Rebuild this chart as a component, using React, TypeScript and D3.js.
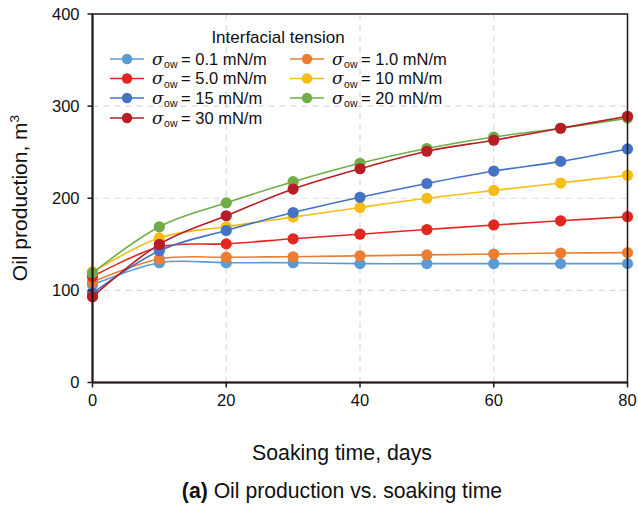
import React from "react";
import * as d3 from "d3";

// Soaking time (days) and oil production (m³) for each interfacial tension case
const days = [0, 10, 20, 30, 40, 50, 60, 70, 80];
const ift01 = [106, 130, 130, 130, 129, 129, 129, 129, 129];
const ift1 = [109, 134, 136, 136.5, 137.5, 138.5, 139.5, 140.5, 141];
const ift5 = [115, 147, 150.5, 156, 161, 166, 171, 175.5, 180];
const ift10 = [120, 157, 169, 179.5, 190, 200, 208.5, 216.5, 225];
const ift15 = [97, 143, 165, 184.5, 201, 216, 229.5, 240, 253.5];
const ift20 = [119, 169, 195, 218, 238, 254, 266.5, 276, 287];
const ift30 = [93, 150, 181, 210, 232, 251, 263, 276, 289];

const seriesLabels = ["0.1 mN/m", "1.0 mN/m", "5.0 mN/m", "10 mN/m", "15 mN/m", "20 mN/m", "30 mN/m"];
const seriesValues = [ift01, ift1, ift5, ift10, ift15, ift20, ift30];
const seriesColors = ["#5B9BD5", "#ED7D31", "#E3261F", "#F6BD16", "#4472C4", "#70AD47", "#B81D25"];

const xTicks = [0, 20, 40, 60, 80];
const yTicks = [0, 100, 200, 300, 400];
const xGrid = [20, 40, 60];
const yGrid = [100, 200, 300];

const W = 638;
const H = 505;
const left = 92.5;
const right = 627.5;
const top = 14;
const bottom = 382.5;
const axisColor = "#231815";
const font = "'Liberation Sans', Arial, sans-serif";

export default function App() {
  const x = d3.scaleLinear().domain([0, 80]).range([left, right]);
  const y = d3.scaleLinear().domain([0, 400]).range([bottom, top]);
  const line = d3
    .line<number>()
    .x((_, i) => x(days[i]))
    .y((v) => y(v))
    .curve(d3.curveCardinal.tension(0));

  // legend layout: two columns, filled row by row
  const legendRows = [59, 78.5, 98, 118];
  const legendCols = [110, 290];

  return (
    <svg
      width={W}
      height={H}
      style={{ position: "absolute", left: 0, top: 0, background: "#fff", fontFamily: font }}
    >
      {/* grid */}
      {yGrid.map((v) => (
        <line key={"gy" + v} x1={left} x2={right} y1={y(v)} y2={y(v)} stroke="#d9d9d9" strokeWidth={1.2} strokeDasharray="6 5" />
      ))}
      {xGrid.map((v) => (
        <line key={"gx" + v} x1={x(v)} x2={x(v)} y1={top} y2={bottom} stroke="#d9d9d9" strokeWidth={1.2} strokeDasharray="6 5" />
      ))}

      {/* series */}
      {seriesValues.map((vals, si) => (
        <g key={"s" + si}>
          <path d={line(vals) || ""} fill="none" stroke={seriesColors[si]} strokeWidth={1.6} />
          {vals.map((v, i) => (
            <circle key={i} cx={x(days[i])} cy={y(v)} r={5.6} fill={seriesColors[si]} />
          ))}
        </g>
      ))}

      {/* frame */}
      <rect x={left} y={top} width={right - left} height={bottom - top} fill="none" stroke={axisColor} strokeWidth={1.5} />
      <line x1={left} x2={left} y1={top} y2={bottom} stroke={axisColor} strokeWidth={2} />
      <line x1={left} x2={right} y1={bottom} y2={bottom} stroke={axisColor} strokeWidth={2} />

      {/* y axis */}
      {yTicks.map((v) => (
        <g key={"yt" + v}>
          <line x1={left - 5} x2={left} y1={y(v)} y2={y(v)} stroke={axisColor} strokeWidth={1.5} />
          <text x={left - 13} y={y(v)} dy="0.35em" textAnchor="end" fontSize={16.5} fill="#111">
            {v}
          </text>
        </g>
      ))}

      {/* x axis */}
      {xTicks.map((v) => (
        <g key={"xt" + v}>
          <line x1={x(v)} x2={x(v)} y1={bottom} y2={bottom + 5} stroke={axisColor} strokeWidth={1.5} />
          <text x={x(v)} y={bottom + 23} textAnchor="middle" fontSize={16.5} fill="#111">
            {v}
          </text>
        </g>
      ))}

      {/* axis titles */}
      <text x={342} y={460} textAnchor="middle" fontSize={21.3} fill="#111">
        Soaking time, days
      </text>
      <text transform="translate(27,198) rotate(-90)" textAnchor="middle" fontSize={21} fill="#111">
        Oil production, m
        <tspan dy={-8} fontSize={13.5}>
          3
        </tspan>
      </text>

      {/* caption */}
      <text x={342} y={498} textAnchor="middle" fontSize={21.2} fill="#111">
        <tspan fontWeight="bold">(a)</tspan> Oil production vs. soaking time
      </text>

      {/* legend */}
      <text x={278} y={43} textAnchor="middle" fontSize={17} fill="#111">
        Interfacial tension
      </text>
      {seriesLabels.map((lab, i) => {
        const cx = legendCols[i % 2];
        const cy = legendRows[Math.floor(i / 2)];
        return (
          <g key={"lg" + i}>
            <line x1={cx} x2={cx + 34} y1={cy} y2={cy} stroke={seriesColors[i]} strokeWidth={1.6} />
            <circle cx={cx + 17} cy={cy} r={5.2} fill={seriesColors[i]} />
            <text x={cx + 42} y={cy} dy="0.36em" fontSize={16.5} fill="#111">
              <tspan fontStyle="italic" fontFamily="'DejaVu Serif', 'Liberation Serif', serif" fontSize={17}>
                σ
              </tspan>
              <tspan fontSize={10.5} dy={3.5} dx={0.5}>
                ow
              </tspan>
              <tspan dy={-3.5} dx={3.5}>
                {"= " + lab}
              </tspan>
            </text>
          </g>
        );
      })}
    </svg>
  );
}
